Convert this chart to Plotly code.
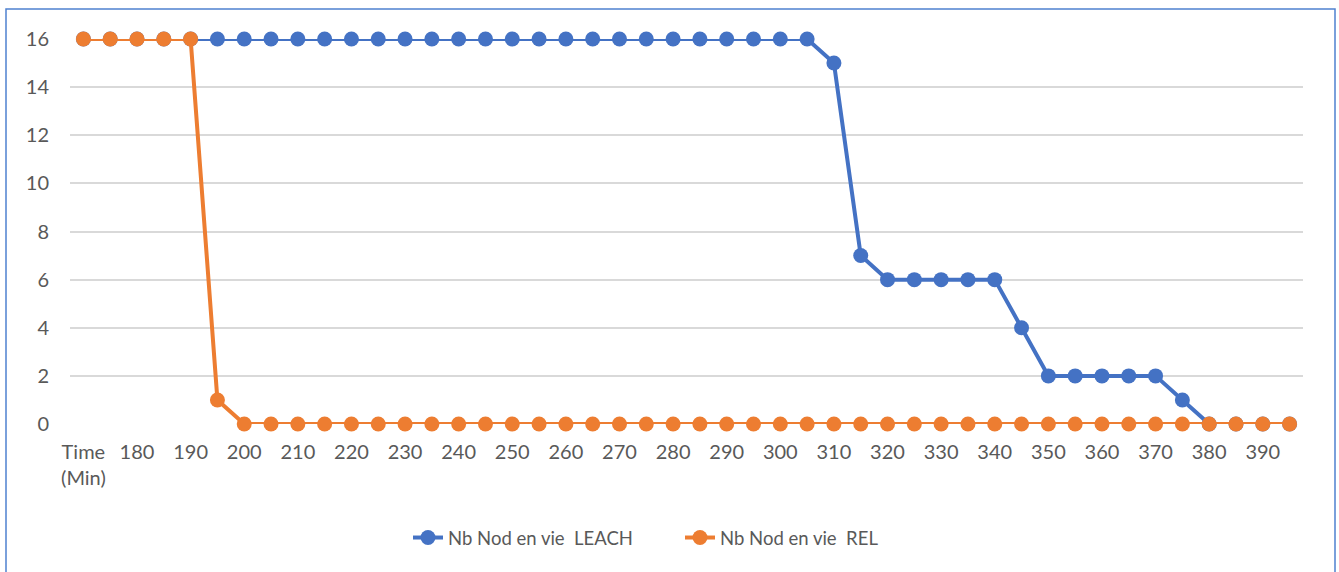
import plotly.graph_objects as go

categories = ["Time (Min)"] + [str(t) for t in range(175, 400, 5)]
leach = [16] * 28 + [15, 7, 6, 6, 6, 6, 6, 4, 2, 2, 2, 2, 2, 1, 0, 0, 0, 0]
rel = [16, 16, 16, 16, 16, 1] + [0] * 40
tick_vals = categories[0::2]
tick_text = ["Time<br>(Min)"] + tick_vals[1:]

BLUE = "#4472C4"
ORANGE = "#ED7D31"
TXT = "#595959"
FONT = "Lato"

fig = go.Figure()
fig.add_trace(go.Scatter(x=categories, y=leach, mode="lines+markers",
                         name="Nb Nod en vie  LEACH",
                         line=dict(color=BLUE, width=4),
                         marker=dict(color=BLUE, size=15), cliponaxis=False))
fig.add_trace(go.Scatter(x=categories, y=rel, mode="lines+markers",
                         name="Nb Nod en vie  REL",
                         line=dict(color=ORANGE, width=4),
                         marker=dict(color=ORANGE, size=15), cliponaxis=False))

L, R, T, B = 70, 36, 39, 148
W, H = 1339, 572
pw, ph = W - L - R, H - T - B

def px_x(p):
    return (p - L) / pw

def px_y(p):
    return (H - B - p) / ph

fig.update_layout(
    width=W, height=H, autosize=False,
    margin=dict(l=L, r=R, t=T, b=B),
    paper_bgcolor="white", plot_bgcolor="white",
    font=dict(family=FONT, size=20, color=TXT),
    showlegend=True,
    legend=dict(orientation="h", x=px_x(408), xanchor="left",
                y=px_y(538), yanchor="middle",
                font=dict(family=FONT, size=18.5, color=TXT),
                entrywidth=227, entrywidthmode="pixels", tracegroupgap=0),
    xaxis=dict(type="category", categoryorder="array", categoryarray=categories,
               tickmode="array", tickvals=tick_vals, ticktext=tick_text,
               showgrid=False, showline=False, zeroline=False,
               range=[-0.5, len(categories) - 0.5],
               ticklabelstandoff=14,
               tickfont=dict(family=FONT, size=20, color=TXT)),
    yaxis=dict(range=[0, 16], dtick=2, showgrid=True, gridcolor="#D9D9D9",
               gridwidth=1.5, zeroline=False, showline=False,
               ticklabelstandoff=20,
               tickfont=dict(family=FONT, size=20, color=TXT)),
    shapes=[dict(type="rect", xref="paper", yref="paper",
                 x0=px_x(6), x1=px_x(1335), y0=px_y(590), y1=px_y(9),
                 line=dict(color="#4F81D0", width=1.5), fillcolor="rgba(0,0,0,0)",
                 layer="below")],
)

fig.write_html("out.html", config={"displayModeBar": False},
               post_script="document.body.style.margin='0';document.body.style.overflow='hidden';")
